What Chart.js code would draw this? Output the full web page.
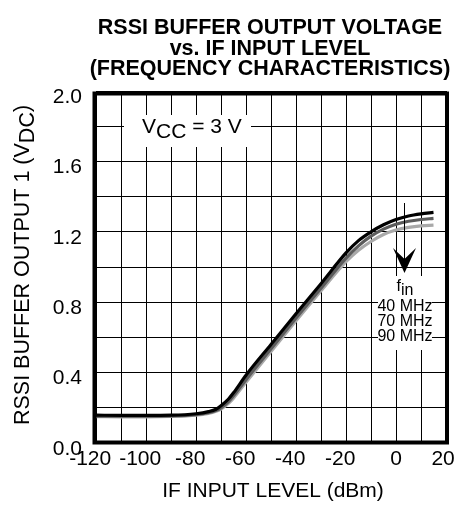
<!DOCTYPE html>
<html>
<head>
<meta charset="utf-8">
<script src="https://cdn.jsdelivr.net/npm/chart.js@4.4.1/dist/chart.umd.min.js"></script>
<style>
  html, body { margin: 0; padding: 0; background: #fff; }
  #wrap { position: relative; width: 455px; height: 506px; }
</style>
</head>
<body>
<div id="wrap"><canvas id="rssi"></canvas></div>
<script>
// IF input level (dBm) sample points
const levels = [-120, -110, -100, -90, -80, -75, -72, -70, -67, -65, -60, -50, -40, -30, -20, -15, -10, -5, 0, 5, 10, 15];

// RSSI buffer output (V) per input frequency
const out40 = [0.158, 0.157, 0.157, 0.158, 0.166, 0.178, 0.192, 0.212, 0.25, 0.285, 0.385, 0.56, 0.735, 0.905, 1.08, 1.15, 1.2, 1.24, 1.27, 1.29, 1.302, 1.31];
const out70 = [0.153, 0.152, 0.152, 0.154, 0.161, 0.172, 0.185, 0.2, 0.235, 0.268, 0.36, 0.535, 0.71, 0.88, 1.05, 1.12, 1.175, 1.215, 1.243, 1.26, 1.27, 1.276];
const out90 = [0.15, 0.149, 0.149, 0.151, 0.158, 0.168, 0.18, 0.193, 0.225, 0.255, 0.345, 0.52, 0.695, 0.865, 1.03, 1.095, 1.145, 1.185, 1.21, 1.225, 1.234, 1.238];

const freqLabels = ['40 MHz', '70 MHz', '90 MHz'];
const titleLines = ['RSSI BUFFER OUTPUT VOLTAGE', 'vs. IF INPUT LEVEL', '(FREQUENCY CHARACTERISTICS)'];

const FONT = '"Liberation Sans", Arial, sans-serif';

const toPts = (ys) => ys.map((y, i) => ({ x: levels[i], y }));

// draw text runs with baseline shifts (for subscripts), centred on x
function drawRuns(ctx, runs, x, y, font, align) {
  ctx.font = font;
  ctx.textAlign = 'left';
  ctx.textBaseline = 'alphabetic';
  const w = runs.reduce((s, r) => s + ctx.measureText(r[0]).width, 0);
  let cx = align === 'left' ? x : x - w / 2;
  runs.forEach(([t, dy]) => {
    ctx.fillText(t, cx, y + dy);
    cx += ctx.measureText(t).width;
  });
}

const decor = {
  id: 'decor',
  beforeDatasetsDraw(chart) {
    const ctx = chart.ctx;
    ctx.save();
    ctx.fillStyle = '#fff';
    ctx.fillRect(124, 115, 127, 32);   // behind VCC note
    ctx.fillRect(378, 276, 54, 74);    // behind fin list
    ctx.restore();
  },
  afterDraw(chart) {
    const ctx = chart.ctx;
    const a = chart.chartArea;
    const cx = (a.left + a.right) / 2;
    ctx.save();
    ctx.fillStyle = '#000';

    // title
    ctx.font = 'bold 21.5px ' + FONT;
    ctx.textAlign = 'center';
    ctx.textBaseline = 'alphabetic';
    [34, 54.5, 75].forEach((by, i) => ctx.fillText(titleLines[i], cx - 1, by));

    // axis titles
    ctx.font = '21px ' + FONT;
    ctx.fillText('IF INPUT LEVEL (dBm)', cx + 2, 497);
    ctx.save();
    ctx.translate(28.5, 265);
    ctx.rotate(-Math.PI / 2);
    drawRuns(ctx, [['RSSI BUFFER OUTPUT 1 (V', 0], ['DC', 5], [')', 0]], 0, 0, '21.5px ' + FONT);
    ctx.restore();

    // VCC note
    drawRuns(ctx, [['V', 0], ['CC', 5], [' = 3 V', 0]], 142, 133, '21px ' + FONT, 'left');

    // fin arrow + list
    ctx.strokeStyle = '#000';
    ctx.lineWidth = 1;
    ctx.beginPath();
    ctx.moveTo(404.5, 203);
    ctx.lineTo(404.5, 262);
    ctx.stroke();
    ctx.beginPath();
    ctx.moveTo(404.5, 273);
    ctx.lineTo(393, 248);
    ctx.lineTo(404.5, 259);
    ctx.lineTo(416, 248);
    ctx.closePath();
    ctx.fill();

    drawRuns(ctx, [['f', 0], ['in', 4]], 405, 291, '16px ' + FONT);
    ctx.font = '16px ' + FONT;
    ctx.textAlign = 'center';
    [311, 326, 341].forEach((by, i) => ctx.fillText(freqLabels[i], 405, by));

    // heavy frame
    ctx.lineWidth = 4;
    ctx.strokeRect(94.5, 93.5, 352.5, 349);
    ctx.restore();
  }
};

const series = [
  { label: freqLabels[0], data: toPts(out40), borderColor: '#000000' },
  { label: freqLabels[1], data: toPts(out70), borderColor: '#5c5c5c' },
  { label: freqLabels[2], data: toPts(out90), borderColor: '#a9a9a9' },
].map(d => Object.assign(d, {
  borderWidth: 3.2,
  pointRadius: 0,
  cubicInterpolationMode: 'monotone',
  fill: false,
}));

new Chart(document.getElementById('rssi'), {
  type: 'line',
  data: { datasets: series },
  plugins: [decor],
  options: {
    responsive: true,
    maintainAspectRatio: false,
    animation: false,
    events: [],
    layout: { padding: { top: 91, right: 9, left: 0, bottom: 0 } },
    plugins: { legend: { display: false }, tooltip: { enabled: false } },
    scales: {
      x: {
        type: 'linear',
        min: -120,
        max: 20,
        border: { display: false },
        grid: { color: '#000', lineWidth: 1, drawTicks: false },
        ticks: {
          stepSize: 10,
          autoSkip: false,
          maxRotation: 0,
          minRotation: 0,
          padding: 4,
          color: '#000',
          font: { family: FONT, size: 21 },
          callback: (v) => {
            if (v % 20 !== 0) return '';
            if (v < 0) return v + '\u00a0\u00a0';
            return v === 20 ? '20\u00a0' : String(v);
          }
        },
        afterFit: (s) => { s.height = 63; s.paddingLeft = 0; s.paddingRight = 0; }
      },
      y: {
        min: 0,
        max: 2,
        border: { display: false },
        grid: { color: '#000', lineWidth: 1, drawTicks: false },
        ticks: {
          stepSize: 0.2,
          autoSkip: false,
          padding: 14,
          labelOffset: 6,
          color: '#000',
          font: { family: FONT, size: 21 },
          callback: (v) => (Math.round(v * 10) % 4 === 0 ? v.toFixed(1) : '')
        },
        afterFit: (s) => { s.width = 96; s.paddingTop = 0; s.paddingBottom = 0; }
      }
    }
  }
});
</script>
</body>
</html>
